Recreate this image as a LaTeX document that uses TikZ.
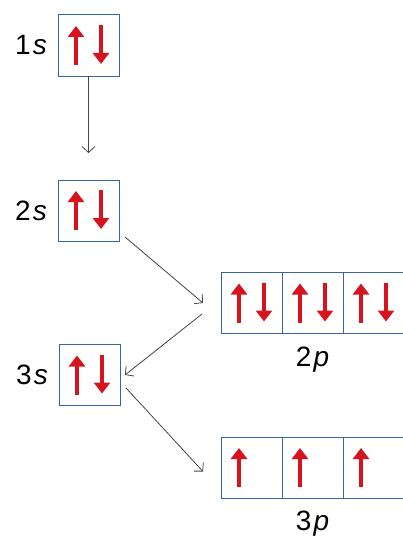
\documentclass[tikz,border=0pt]{standalone}
\usepackage{fontspec}
\setsansfont{Liberation Sans}
\usepackage{tikz}
\usetikzlibrary{arrows.meta,positioning}

\definecolor{boxblue}{RGB}{55,100,165}
\definecolor{spinred}{RGB}{215,20,30}
\definecolor{conngray}{RGB}{70,70,70}

% spin arrows inside an orbital box
\newcommand{\upspin}[1]{%
	\draw [spin] ([xshift=18pt,yshift=11pt]#1.south west) -- ([xshift=18pt,yshift=-11pt]#1.north west);}
\newcommand{\pairspin}[1]{%
	\upspin{#1}
	\draw [spin] ([xshift=-18pt,yshift=-10pt]#1.north east) -- ([xshift=-18pt,yshift=12pt]#1.south east);}

\begin{document}
\begin{tikzpicture}[
		x=1pt, y=1pt,
		font=\sffamily\fontsize{28}{32}\selectfont,
		orb/.style={
			rectangle,
			draw=boxblue,
			line width=1pt,
			minimum size=61pt,
			inner sep=0pt,
			outer sep=0pt,
			fill=white
		},
		shell/.style={
			inner sep=0pt
		},
		spin/.style={
			draw=spinred,
			line width=3.2pt,
			-{Triangle[width=16pt,length=11pt]}
		},
		conn/.style={
			draw=conngray,
			line width=0.8pt,
			-{Straight Barb[length=6pt,width=13pt]}
		}
		]
		\useasboundingbox (0,0) rectangle (403,-543);
		
		% We start by placing the s boxes
		\node [orb] (s1) at (88.5,-45.5) {};
		\node [orb] (s2) at (88.5,-210.5) {};
		\node [orb] (s3) at (89.5,-375) {};
		
		\node [shell, left=11pt of s1] (l1) {1\kern2pt\textit{s}};
		\node [shell, left=11pt of s2] (l2) {2\kern2pt\textit{s}};
		\node [shell, left=11pt of s3] (l3) {3\kern2pt\textit{s}};
		
		% p boxes
		\node [orb] (p2a) at (251.5,-303) {};
		\node [orb, right=0pt of p2a] (p2b) {};
		\node [orb, right=0pt of p2b] (p2c) {};
		\node [orb] (p3a) at (251.5,-467.5) {};
		\node [orb, right=0pt of p3a] (p3b) {};
		\node [orb, right=0pt of p3b] (p3c) {};
		
		\node [shell, below=13pt of p2b] (l2p) {2\kern2pt\textit{p}};
		\node [shell, below=13pt of p3b] (l3p) {3\kern2pt\textit{p}};
		
		% electrons
		\pairspin{s1}
		\pairspin{s2}
		\pairspin{s3}
		\pairspin{p2a}
		\pairspin{p2b}
		\pairspin{p2c}
		\upspin{p3a}
		\upspin{p3b}
		\upspin{p3c}
		
		% filling order
		\draw [conn, shorten >=27pt] (s1) -- (s2);
		\draw [conn] ([xshift=6pt,yshift=4pt]s2.south east) -- ([xshift=-18pt]p2a.west);
		\draw [conn] ([xshift=-19pt,yshift=-11pt]p2a.west) -- ([xshift=5pt]s3.east);
		\draw [conn] ([xshift=6pt,yshift=-13pt]s3.east) -- ([xshift=-18pt,yshift=-4pt]p3a.west);
		
\end{tikzpicture}
\end{document}
